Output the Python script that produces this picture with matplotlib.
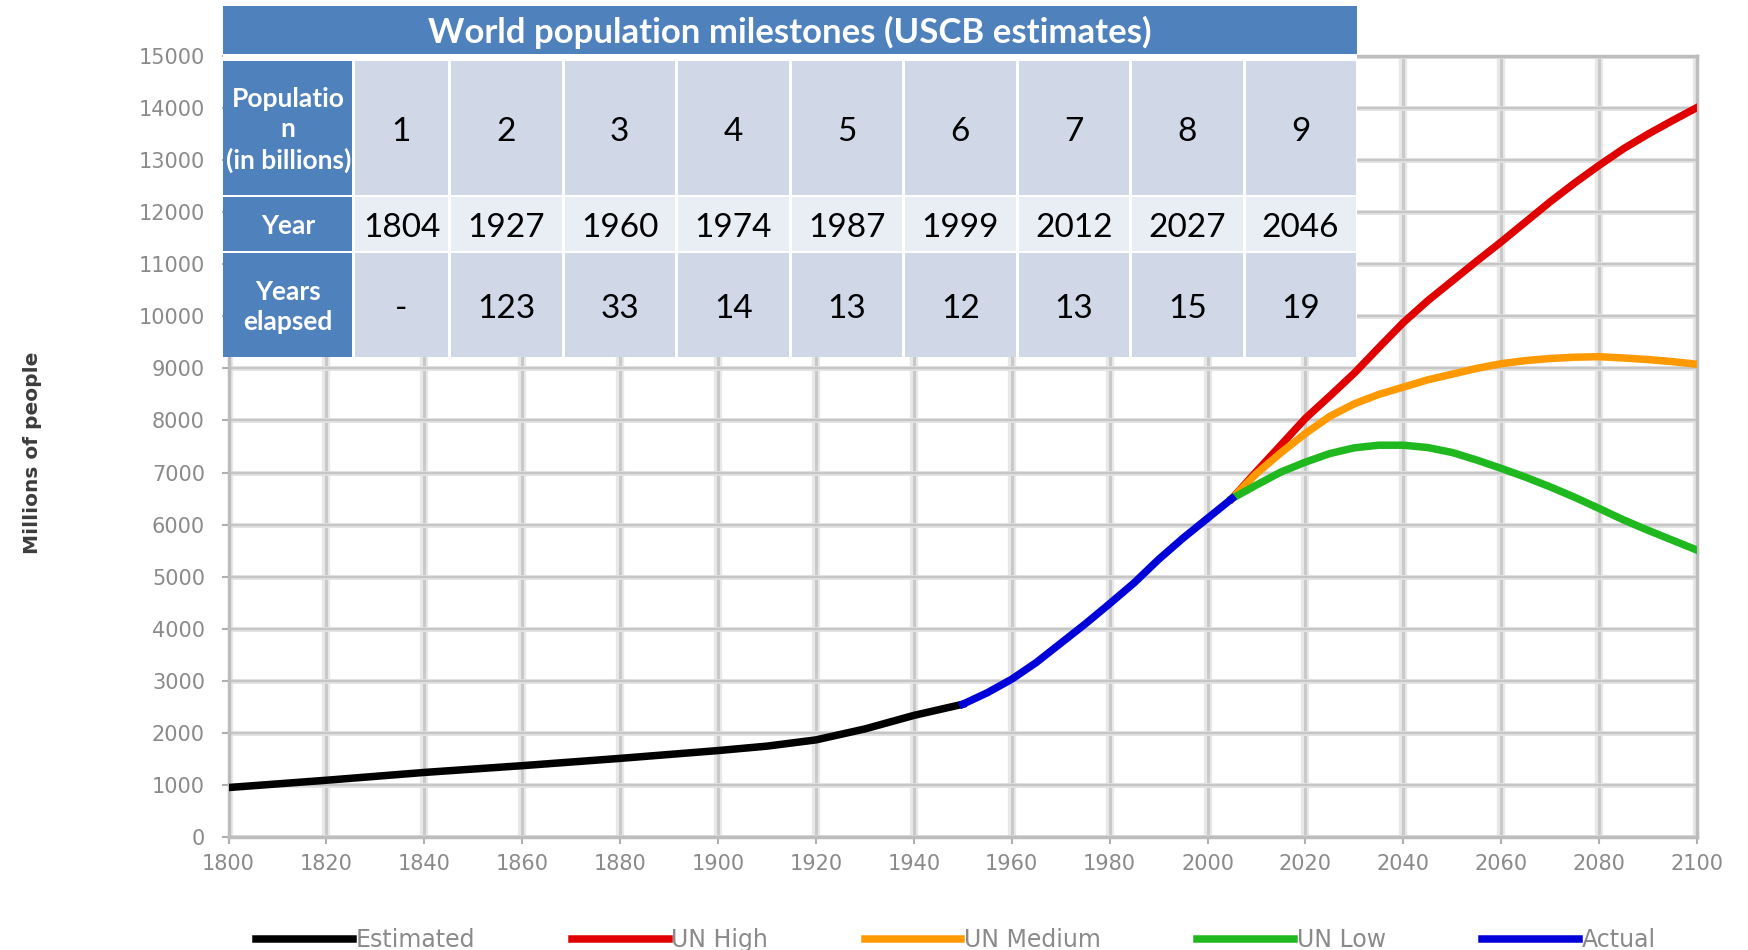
import numpy as np
import matplotlib
matplotlib.use("Agg")
import matplotlib.pyplot as plt
from matplotlib.patches import Rectangle
from matplotlib.lines import Line2D

# --- data ---
est_years = [1800, 1820, 1840, 1860, 1880, 1900, 1910, 1920, 1930, 1940, 1950]
est_pop = [950, 1090, 1240, 1370, 1510, 1660, 1745, 1865, 2075, 2335, 2550]

actual_years = [1950, 1955, 1960, 1965, 1970, 1975, 1980, 1985, 1990, 1995, 2000, 2005]
actual_pop = [2550, 2770, 3030, 3350, 3720, 4090, 4480, 4880, 5330, 5740, 6120, 6500]

proj_years = [2005, 2010, 2015, 2020, 2025, 2030, 2035, 2040, 2045, 2050,
              2055, 2060, 2065, 2070, 2075, 2080, 2085, 2090, 2095, 2100]
un_high = [6500, 7020, 7530, 8040, 8470, 8910, 9400, 9880, 10300, 10680,
           11060, 11430, 11815, 12200, 12560, 12900, 13220, 13500, 13760, 14010]
un_medium = [6500, 6980, 7380, 7750, 8080, 8320, 8500, 8640, 8780, 8890,
             9000, 9090, 9150, 9190, 9215, 9225, 9200, 9170, 9130, 9080]
un_low = [6500, 6760, 7010, 7200, 7365, 7475, 7525, 7525, 7480, 7385,
          7240, 7080, 6910, 6725, 6525, 6310, 6090, 5890, 5700, 5510]

# milestone table
table_title = "World population milestones (USCB estimates)"
row_headers = ["Populatio\nn\n(in billions)", "Year", "Years\nelapsed"]
pop_billions = ["1", "2", "3", "4", "5", "6", "7", "8", "9"]
milestone_years = ["1804", "1927", "1960", "1974", "1987", "1999", "2012", "2027", "2046"]
years_elapsed = ["-", "123", "33", "14", "13", "12", "13", "15", "19"]

W, H = 1748, 950
fig = plt.figure(figsize=(W / 100, H / 100), dpi=100)
fig.patch.set_facecolor("white")

# main plot area (pixel box 228..1697, 56..837)
ax = fig.add_axes([228.5 / W, 1 - 837 / H, (1697 - 228.5) / W, (837 - 56) / H])
ax.set_xlim(1800, 2100)
ax.set_ylim(0, 15000)

# grid drawn as soft double lines to mimic the blurry original
for x in range(1800, 2101, 20):
    ax.axvline(x, color="#e8e8e8", lw=6, zorder=0)
    ax.axvline(x, color="#c9c9c9", lw=2.2, zorder=0)
for y in range(0, 15001, 1000):
    ax.axhline(y, color="#e2e2e2", lw=3.5, zorder=0)
    ax.axhline(y, color="#c6c6c6", lw=1.6, zorder=0)

lw = 5.4
c_est, c_high, c_med, c_low, c_act = "black", "#e00000", "#ff9900", "#1fb81f", "#0000d8"
ax.plot(est_years, est_pop, color=c_est, lw=lw, zorder=3)
ax.plot(proj_years, un_high, color=c_high, lw=lw, zorder=3)
ax.plot(proj_years, un_medium, color=c_med, lw=lw, zorder=3)
ax.plot(proj_years, un_low, color=c_low, lw=lw, zorder=3)
ax.plot(actual_years, actual_pop, color=c_act, lw=lw, zorder=4)

ax.set_xticks(range(1800, 2101, 20))
ax.set_yticks(range(0, 15001, 1000))
ax.tick_params(axis="both", colors="#b0b0b0", length=5, width=1.5,
               labelcolor="#8a8a8a", labelsize=15)
ax.tick_params(axis="x", pad=7)
ax.tick_params(axis="y", pad=12)
for s in ["left", "bottom", "right", "top"]:
    ax.spines[s].set_color("#bdbdbd")
    ax.spines[s].set_linewidth(2.5)

fig.text(33 / W, 1 - 453 / H, "Millions of people", rotation=90, ha="center",
         va="center", fontsize=14.5, fontweight="bold", color="#3c3c3c")

# --- milestone table overlay, laid out in pixel units ---
tx = fig.add_axes([0, 0, 1, 1], zorder=10)
tx.set_xlim(0, W)
tx.set_ylim(H, 0)
tx.axis("off")
tx.patch.set_alpha(0)

blue = "#4f81bd"
dark_cell = "#d0d8e8"
light_cell = "#e9edf4"
tfont = ["Lato", "DejaVu Sans"]

col_edges = [223, 353.5, 449.5, 563, 676.5, 790, 903.5, 1017, 1130.5, 1244, 1357]
row_edges = [(61, 195), (197, 251), (253, 357)]
row_colors = [dark_cell, light_cell, dark_cell]
row_values = [pop_billions, milestone_years, years_elapsed]

tx.add_patch(Rectangle((223, 6), 1357 - 223, 357 - 6, facecolor="white", edgecolor="none"))
tx.add_patch(Rectangle((223, 6), 1357 - 223, 48, facecolor=blue, edgecolor="none"))
tx.text((223 + 1357) / 2, 32, table_title, ha="center", va="center", color="white",
        fontsize=25, fontweight="bold", family=tfont)

gap = 1.5
for r, (y0, y1) in enumerate(row_edges):
    # header cell
    tx.add_patch(Rectangle((col_edges[0], y0), col_edges[1] - col_edges[0] - gap, y1 - y0,
                           facecolor=blue, edgecolor="none"))
    tx.text((col_edges[0] + col_edges[1]) / 2, (y0 + y1) / 2 + 2, row_headers[r], ha="center",
            va="center", color="white", fontsize=19, fontweight="bold", family=tfont,
            linespacing=1.3)
    for c, val in enumerate(row_values[r]):
        xa, xb = col_edges[c + 1] + gap, col_edges[c + 2] - gap
        tx.add_patch(Rectangle((xa, y0), xb - xa, y1 - y0, facecolor=row_colors[r], edgecolor="none"))
        tx.text((xa + xb) / 2, (y0 + y1) / 2 + 4, val, ha="center", va="center", color="black",
                fontsize=24, family=tfont)

# --- legend ---
handles = [Line2D([], [], color=c, lw=lw) for c in [c_est, c_high, c_med, c_low, c_act]]
labels = ["Estimated", "UN High", "UN Medium", "UN Low", "Actual"]
leg = fig.legend(handles, labels, loc="center", bbox_to_anchor=(956 / W, 1 - 940 / H),
                 ncol=5, frameon=False, fontsize=17, handlelength=4.1,
                 handletextpad=0.1, columnspacing=4.1)
for t in leg.get_texts():
    t.set_color("#8a8a8a")

fig.savefig("out.png", dpi=100)
